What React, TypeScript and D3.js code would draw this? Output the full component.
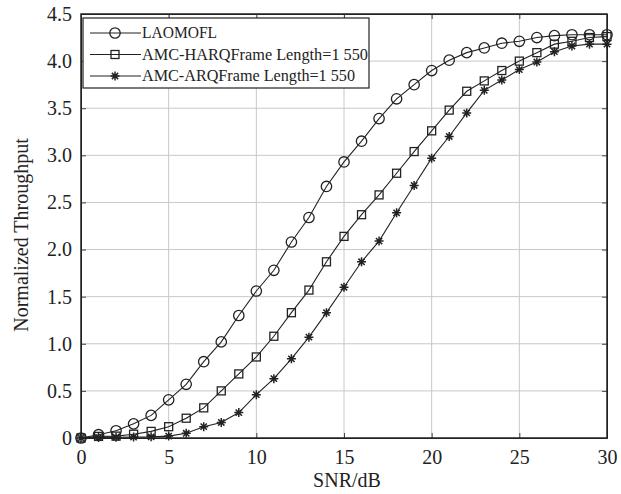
import React, { useEffect, useRef } from 'react';
import * as d3 from 'd3';

const snr = d3.range(0, 31);
const laomofl = [0, 0.035, 0.077, 0.15, 0.24, 0.405, 0.57, 0.81, 1.02, 1.3, 1.56, 1.78, 2.08, 2.34, 2.67, 2.93, 3.15, 3.39, 3.6, 3.75, 3.9, 4.01, 4.09, 4.14, 4.19, 4.21, 4.25, 4.27, 4.28, 4.28, 4.28];
const harq = [0, 0.017, 0.02, 0.04, 0.07, 0.12, 0.21, 0.32, 0.5, 0.68, 0.86, 1.08, 1.33, 1.57, 1.87, 2.14, 2.37, 2.58, 2.81, 3.04, 3.26, 3.48, 3.68, 3.79, 3.9, 4.0, 4.09, 4.18, 4.21, 4.25, 4.26];
const arq = [0, 0.005, 0.008, 0.01, 0.012, 0.02, 0.05, 0.12, 0.165, 0.27, 0.46, 0.63, 0.84, 1.07, 1.33, 1.6, 1.87, 2.09, 2.39, 2.68, 2.97, 3.2, 3.45, 3.69, 3.8, 3.91, 3.99, 4.1, 4.16, 4.18, 4.18];
const legendLabels = ['LAOMOFL', 'AMC-HARQFrame Length=1 550', 'AMC-ARQFrame Length=1 550'];
const xTicks = [0, 5, 10, 15, 20, 25, 30];
const yTicks = [0, 0.5, 1, 1.5, 2, 2.5, 3, 3.5, 4, 4.5];

const App = () => {
  const ref = useRef<SVGSVGElement>(null);

  useEffect(() => {
    if (!ref.current) return;
    const svg = d3.select(ref.current);
    svg.selectAll('*').remove();
    const left = 81, right = 607, top = 14, bottom = 438;
    const font = '"Liberation Serif", "DejaVu Serif", serif';

    const x = d3.scaleLinear().domain([0, 30]).range([left, right]);
    const y = d3.scaleLinear().domain([0, 4.5]).range([bottom, top]);

    svg.append('rect').attr('width', 621).attr('height', 494).attr('fill', '#fff');

    // grid
    const grid = svg.append('g').attr('stroke', '#c8c8c8').attr('stroke-width', 1);
    xTicks.slice(1, -1).forEach(t => {
      grid.append('line').attr('x1', x(t)).attr('x2', x(t)).attr('y1', top).attr('y2', bottom);
    });
    yTicks.slice(1, -1).forEach(t => {
      grid.append('line').attr('x1', left).attr('x2', right).attr('y1', y(t)).attr('y2', y(t));
    });

    // axes
    const xAx = svg.append('g').attr('transform', `translate(0,${bottom})`)
      .call(d3.axisBottom(x).tickValues(xTicks).tickSize(-5).tickPadding(12).tickFormat(d3.format('d')));
    const yAx = svg.append('g').attr('transform', `translate(${left},0)`)
      .call(d3.axisLeft(y).tickValues(yTicks).tickSize(-5).tickPadding(9)
        .tickFormat(d => (+d === 0 ? '0' : (+d).toFixed(1))));
    svg.append('g').attr('transform', `translate(0,${top})`)
      .call(d3.axisTop(x).tickValues(xTicks).tickSize(-5).tickFormat(() => ''));
    svg.append('g').attr('transform', `translate(${right},0)`)
      .call(d3.axisRight(y).tickValues(yTicks).tickSize(-5).tickFormat(() => ''));
    [xAx, yAx].forEach(a => a.selectAll('text').attr('font-family', font).attr('font-size', 20).attr('fill', '#222'));
    svg.selectAll('.domain').attr('stroke', '#222');
    svg.selectAll('.tick line').attr('stroke', '#444');

    svg.append('rect').attr('x', left).attr('y', top).attr('width', right - left).attr('height', bottom - top)
      .attr('fill', 'none').attr('stroke', '#222').attr('stroke-width', 1.5);

    // titles
    svg.append('text').attr('x', 347).attr('y', 487).attr('text-anchor', 'middle')
      .attr('font-family', font).attr('font-size', 20).attr('fill', '#222').text('SNR/dB');
    svg.append('text').attr('transform', `translate(28,235) rotate(-90)`).attr('text-anchor', 'middle')
      .attr('font-family', font).attr('font-size', 20).attr('fill', '#222').text('Normalized Throughput');

    const line = d3.line<number>().x((d, i) => x(snr[i])).y(d => y(d));
    const color = '#222';

    const drawMarker = (g: any, kind: number, cx: number, cy: number) => {
      if (kind === 0) {
        g.append('circle').attr('cx', cx).attr('cy', cy).attr('r', 5.2)
          .attr('fill', 'none').attr('stroke', color).attr('stroke-width', 1.3);
      } else if (kind === 1) {
        g.append('rect').attr('x', cx - 4).attr('y', cy - 4).attr('width', 8).attr('height', 8)
          .attr('fill', 'none').attr('stroke', color).attr('stroke-width', 1.3);
      } else {
        const s = 4.5;
        const p = `M${cx - s},${cy}L${cx + s},${cy}M${cx},${cy - s}L${cx},${cy + s}` +
          `M${cx - s * 0.7},${cy - s * 0.7}L${cx + s * 0.7},${cy + s * 0.7}` +
          `M${cx - s * 0.7},${cy + s * 0.7}L${cx + s * 0.7},${cy - s * 0.7}`;
        g.append('path').attr('d', p).attr('stroke', color).attr('stroke-width', 1.5).attr('fill', 'none');
      }
    };

    const series = [laomofl, harq, arq];
    const plot = svg.append('g');
    series.forEach((vals, k) => {
      plot.append('path').datum(vals).attr('d', line).attr('fill', 'none').attr('stroke', color).attr('stroke-width', 1.1);
      vals.forEach((v, i) => drawMarker(plot, k, x(snr[i]), y(v)));
    });

    // legend
    const textLens = [75, 226, 213];
    const lg = svg.append('g');
    lg.append('rect').attr('x', 83).attr('y', 18).attr('width', 286).attr('height', 70)
      .attr('fill', '#fff').attr('stroke', '#222').attr('stroke-width', 1.2);
    legendLabels.forEach((lab, k) => {
      const ly = 33 + k * 21.5;
      lg.append('line').attr('x1', 90).attr('x2', 141).attr('y1', ly).attr('y2', ly).attr('stroke', color).attr('stroke-width', 1.1);
      drawMarker(lg, k, 115, ly);
      lg.append('text').attr('x', 142).attr('y', ly + 5).attr('font-family', font).attr('font-size', 16)
        .attr('textLength', textLens[k]).attr('lengthAdjust', 'spacingAndGlyphs')
        .attr('fill', '#222').text(lab);
    });
  }, []);

  return <svg ref={ref} width={621} height={494} style={{ display: 'block', position: 'absolute', left: 0, top: 0 }} />;
};

export default App;
